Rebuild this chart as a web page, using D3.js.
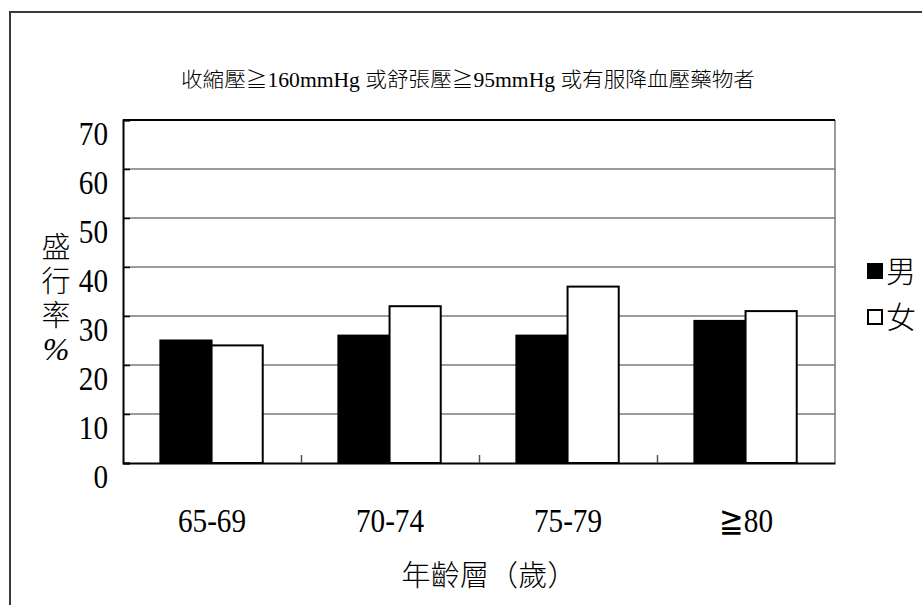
<!DOCTYPE html>
<html>
<head>
<meta charset="utf-8">
<script src="https://cdn.jsdelivr.net/npm/d3@7"></script>
<style>
  html, body { margin: 0; padding: 0; background: #fff; }
  svg { display: block; }
  .num { font-family: "Liberation Serif", "Times New Roman", Times, serif; font-weight: 400; fill: #000; }
  .cjk { font-family: "Liberation Serif", "Noto Sans CJK TC", "Noto Sans CJK JP", sans-serif; font-weight: 300; fill: #000; }
</style>
</head>
<body>
<svg id="chart" width="922" height="605"></svg>
<script>
// Prevalence of hypertension by age group and sex (%)
const categories = ["65-69", "70-74", "75-79", "≧80"];
const seriesNames = ["男", "女"];
const maleValues = [25, 26, 26, 29];
const femaleValues = [24, 32, 36, 31];
const yTicks = [0, 10, 20, 30, 40, 50, 60, 70];
const titleText = "收縮壓≧160mmHg 或舒張壓≧95mmHg 或有服降血壓藥物者";
const xTitle = "年齡層（歲）";
const yTitleChars = ["盛", "行", "率", "%"];

const rows = categories.map((c, i) => ({ cat: c, values: [maleValues[i], femaleValues[i]] }));
const fills = ["#000", "#fff"];

const svg = d3.select("#chart");
const plot = { left: 123, right: 835, top: 120, bottom: 463 };

// outer frame
svg.append("rect")
  .attr("x", 10).attr("y", 12)
  .attr("width", 1000).attr("height", 1000)
  .attr("fill", "none").attr("stroke", "#3a3a3a").attr("stroke-width", 2);

const x0 = d3.scaleBand().domain(categories).range([plot.left, plot.right]).padding(0);
const bw = x0.bandwidth();
const x1 = d3.scaleBand().domain(d3.range(seriesNames.length)).range([bw * 0.21, bw * 0.785]).padding(0);
const y = d3.scaleLinear().domain([0, 70]).range([plot.bottom, plot.top]);

// gridlines
svg.append("g")
  .selectAll("line")
  .data(yTicks.filter(t => t > 0 && t < 70))
  .join("line")
  .attr("x1", plot.left).attr("x2", plot.right)
  .attr("y1", d => y(d)).attr("y2", d => y(d))
  .attr("stroke", "#7a7a7a").attr("stroke-width", 1.5);

// right edge of plot area
svg.append("line")
  .attr("x1", plot.right).attr("x2", plot.right)
  .attr("y1", plot.top).attr("y2", plot.bottom)
  .attr("stroke", "#7a7a7a").attr("stroke-width", 1.5);

// top edge
svg.append("line")
  .attr("x1", plot.left).attr("x2", plot.right)
  .attr("y1", plot.top).attr("y2", plot.top)
  .attr("stroke", "#000").attr("stroke-width", 2);

// bars
const groups = svg.append("g")
  .selectAll("g")
  .data(rows)
  .join("g")
  .attr("transform", d => `translate(${x0(d.cat)},0)`);

groups.selectAll("rect")
  .data(d => d.values.map((v, i) => ({ v, i })))
  .join("rect")
  .attr("x", d => x1(d.i))
  .attr("width", x1.bandwidth())
  .attr("y", d => y(d.v))
  .attr("height", d => y(0) - y(d.v))
  .attr("fill", d => fills[d.i])
  .attr("stroke", "#000")
  .attr("stroke-width", 2);

// left axis with inward ticks
const yAxis = svg.append("g")
  .attr("transform", `translate(${plot.left},0)`)
  .call(d3.axisLeft(y).tickValues(yTicks).tickSize(-7).tickFormat(""));
yAxis.select(".domain").attr("stroke", "#000").attr("stroke-width", 2);
yAxis.selectAll(".tick line").attr("stroke", "#000").attr("stroke-width", 1.5);

// bottom axis with inward ticks at category boundaries
const xAxis = svg.append("g")
  .attr("transform", `translate(0,${plot.bottom})`)
  .call(d3.axisBottom(d3.scaleLinear().domain([0, categories.length]).range([plot.left, plot.right]))
    .tickValues(d3.range(1, categories.length)).tickSize(-8).tickFormat("").tickSizeOuter(0));
xAxis.select(".domain").attr("stroke", "#000").attr("stroke-width", 2);
xAxis.selectAll(".tick line").attr("stroke", "#555").attr("stroke-width", 1.5);

// y tick labels
svg.append("g")
  .selectAll("text")
  .data(yTicks)
  .join("text")
  .attr("class", "num")
  .attr("transform", d => `translate(108,${y(d) + 25}) scale(0.86,1)`)
  .attr("text-anchor", "end")
  .attr("font-size", 34)
  .text(d => d);

// x category labels
svg.append("g")
  .selectAll("text")
  .data(categories)
  .join("text")
  .attr("class", "num")
  .attr("transform", d => `translate(${x0(d) + bw / 2},532) scale(0.86,1)`)
  .attr("text-anchor", "middle")
  .attr("font-size", 34)
  .text(d => d);

// title
svg.append("text")
  .attr("class", "cjk")
  .attr("x", 468).attr("y", 87)
  .attr("text-anchor", "middle")
  .attr("font-size", 20)
  .attr("textLength", 574)
  .attr("lengthAdjust", "spacingAndGlyphs")
  .text(titleText);

// x axis title
svg.append("text")
  .attr("class", "cjk")
  .attr("x", 489).attr("y", 586)
  .attr("text-anchor", "middle")
  .attr("font-size", 29)
  .attr("textLength", 175)
  .attr("lengthAdjust", "spacing")
  .text(xTitle);

// y axis title, stacked vertically
svg.append("g")
  .selectAll("text")
  .data(yTitleChars)
  .join("text")
  .attr("class", d => d === "%" ? "num" : "cjk")
  .attr("x", 56)
  .attr("y", (d, i) => 258 + i * 34)
  .attr("text-anchor", "middle")
  .attr("font-size", d => d === "%" ? 32 : 29)
  .attr("font-style", d => d === "%" ? "italic" : "normal")
  .text(d => d);

// legend
const legend = svg.append("g")
  .selectAll("g")
  .data(seriesNames)
  .join("g")
  .attr("transform", (d, i) => `translate(867,${271 + i * 46})`);
legend.append("rect")
  .attr("x", 1).attr("y", -7)
  .attr("width", 14).attr("height", 14)
  .attr("fill", (d, i) => fills[i])
  .attr("stroke", "#000").attr("stroke-width", 2);
legend.append("text")
  .attr("class", "cjk")
  .attr("x", 19).attr("y", 11)
  .attr("font-size", 30)
  .text(d => d);
</script>
</body>
</html>
